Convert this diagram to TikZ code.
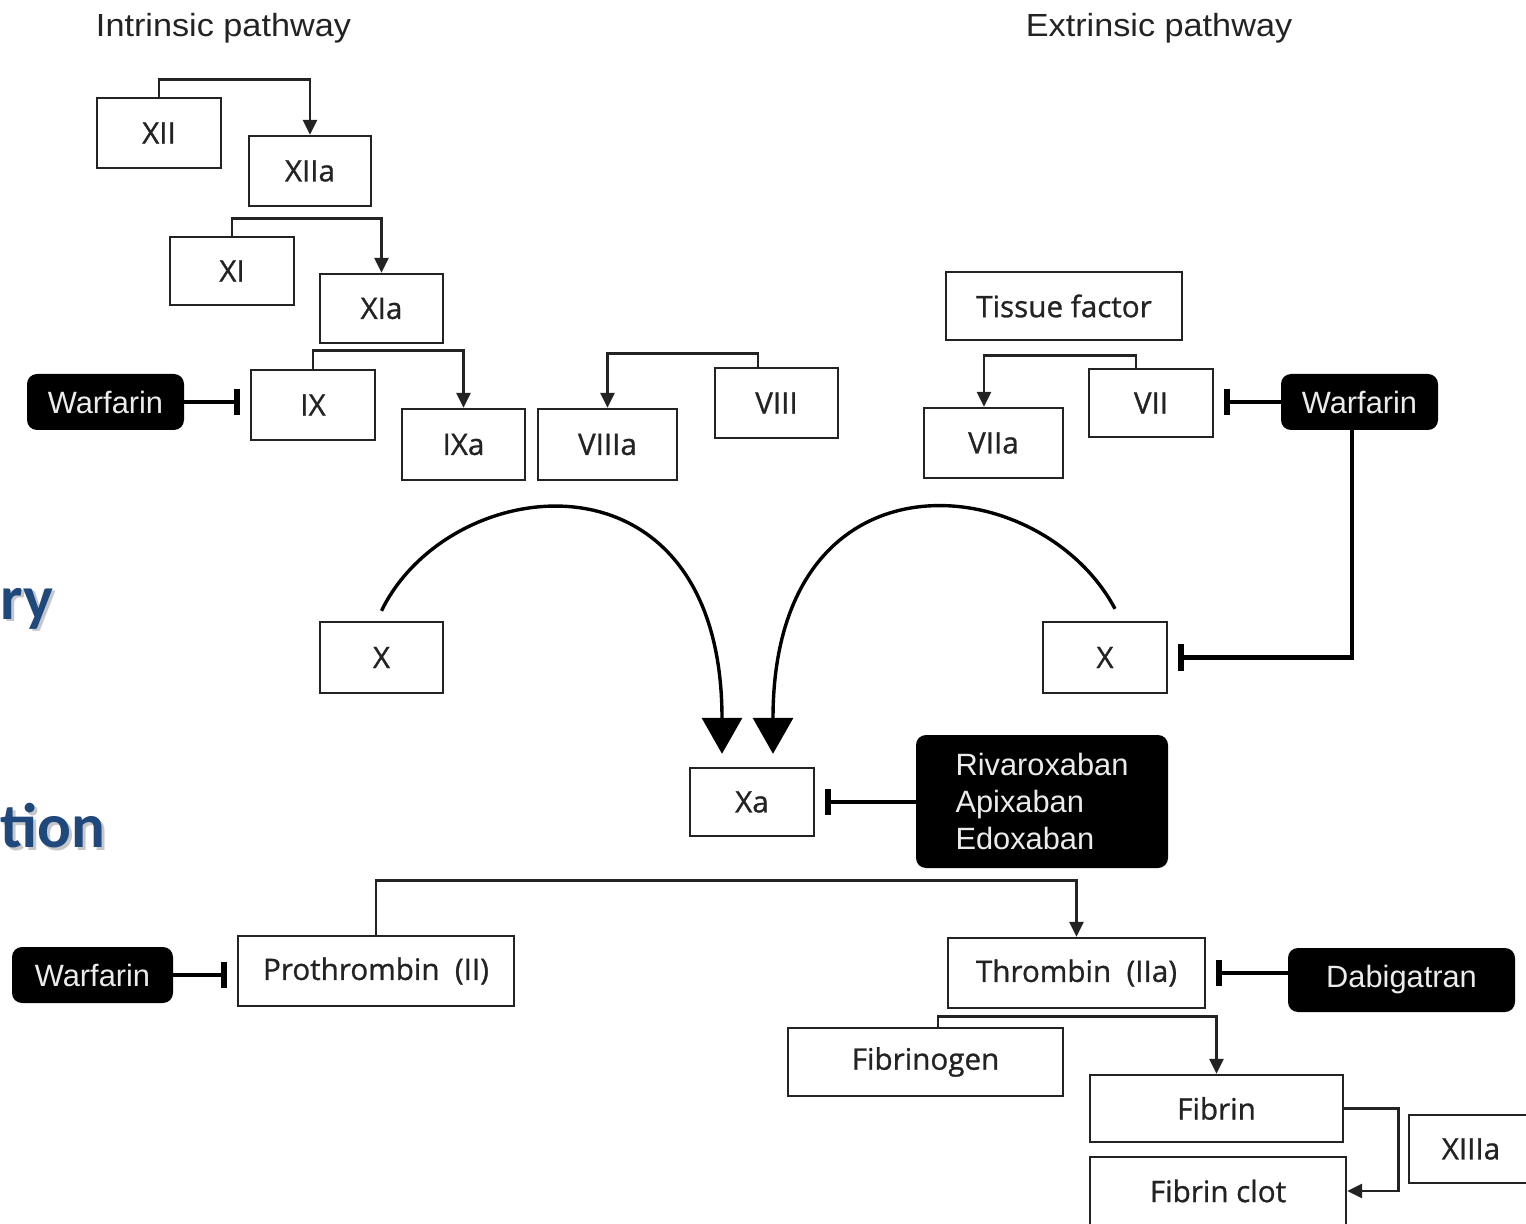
\documentclass[tikz,border=0pt]{standalone}
\usepackage{fontspec}
\setmainfont{Open Sans}
\newfontfamily\boxfont{Open Sans}[FakeBold=0.9]
\newfontfamily\arialfont{Liberation Sans}
\newfontfamily\slidefont{Carlito}
\usetikzlibrary{arrows.meta}

\definecolor{slideblue}{RGB}{31,73,125}
\definecolor{ink}{RGB}{35,35,35}

\begin{document}
\begin{tikzpicture}[x=0.5pt,y=-0.5pt,
  box/.style={draw=ink, line width=1.2pt, fill=white, inner sep=0pt,
    font=\boxfont\fontsize{14.8}{17}\selectfont, text=ink},
  drug/.style={fill=black, rounded corners=5pt, inner sep=0pt, text=white!92!black,
    font=\arialfont\fontsize{15.4}{18.3}\selectfont},
  conn/.style={line width=1.4pt, draw=ink, -{Triangle[width=7pt,length=7.5pt]}},
  inh/.style={line width=2.3pt, draw=black, -{Bar[width=13pt,line width=2.8pt]}, shorten >=5pt},
  bigarr/.style={line width=1.7pt, draw=black, -{Triangle[width=20pt,length=18pt]}},
  sz/.style 2 args={minimum width=#1*0.5pt, minimum height=#2*0.5pt},
  header/.style={font=\arialfont\fontsize{16}{19}\selectfont, xscale=1.07, text=ink},
  slide/.style={anchor=base west, inner sep=0pt, text=slideblue,
    font=\slidefont\bfseries\fontsize{31.5}{38}\selectfont},
  slideshadow/.style={slide, text=black, opacity=0.22}
]
\useasboundingbox (0,0) rectangle (1526,1224);
\clip (0,0) rectangle (1526,1224);
\fill[white] (0,0) rectangle (1526,1224);

% partial slide title words at the left edge
\node[slideshadow] (ryS) at (3,622) {ry};
\node[slide] (ry) at (0,619) {ry};
\node[slideshadow] (tionS) at (3,850) {tion};
\node[slide] (tion) at (0,847) {tion};

% headings
\node[header] (hint) at (223.5,28) {Intrinsic pathway};
\node[header] (hext) at (1159,28) {Extrinsic pathway};

% intrinsic pathway
\node[box, sz={124}{70}] (xii) at (159,133) {XII};
\node[box, sz={122}{70}] (xiia) at (310,171) {XIIa};
\node[box, sz={124}{68}] (xi) at (232,271) {XI};
\node[box, sz={123}{69}] (xia) at (381.5,308.5) {XIa};
\node[box, sz={124}{70}] (ix) at (313,405) {IX};
\node[box, sz={123}{71}] (ixa) at (463.5,444.5) {IXa};
\node[box, sz={139}{71}] (viiia) at (607.5,444.5) {VIIIa};
\node[box, sz={123}{70}] (viii) at (776.5,403) {VIII};
\node[drug, sz={157}{56}] (warfA) at (105.5,402) {Warfarin};

% extrinsic pathway
\node[box, sz={236}{68}] (tf) at (1064,306) {Tissue factor};
\node[box, sz={139}{70}] (viia) at (993.5,443) {VIIa};
\node[box, sz={124}{68}] (vii) at (1151,403) {VII};
\node[drug, sz={157}{56}] (warfB) at (1359.5,402) {Warfarin};

% factor X activation
\node[box, sz={123}{71}] (xl) at (381.5,657.5) {X};
\node[box, sz={124}{71}] (xr) at (1105,657.5) {X};
\node[box, sz={124}{68}] (xa) at (752,802) {Xa};
\node[drug, sz={252}{133}, align=left] (xaban) at (1042,801.5) {Rivaroxaban\\Apixaban\\Edoxaban};

% common pathway
\node[drug, sz={161}{56}] (warfC) at (92.5,975) {Warfarin};
\node[box, sz={276}{70}] (proth) at (376,971) {Prothrombin~ (II)};
\node[box, sz={257}{70}] (thromb) at (1076.5,973) {Thrombin~ (IIa)};
\node[drug, sz={227}{64}] (dabi) at (1401.5,980) {Dabigatran};
\node[box, sz={275}{68}] (fbg) at (925.5,1062) {Fibrinogen};
\node[box, sz={253}{67}] (fibrin) at (1216.5,1108.5) {Fibrin};
\node[box, sz={256}{68}] (clot) at (1218,1191) {Fibrin clot};
\node[box, sz={124}{68}] (xiiia) at (1471,1149) {XIIIa};

% activation steps
\draw[conn] (xii.north) -- ++(0,-17) -| (xiia.north);
\draw[conn] (xi.north) -- ++(0,-17) -| (xia.north);
\draw[conn] (ix.north) -- ++(0,-18) -| (ixa.north);
\draw[conn] ([xshift=-9.25pt]viii.north) -- ++(0,-13) -| (viiia.north);
\draw[conn] ([xshift=-7.5pt]vii.north) -- ++(0,-12) -| ([xshift=-4.75pt]viia.north);
\draw[conn] (proth.north) -- ++(0,-54) -| (thromb.north);
\draw[conn] ([xshift=6.25pt]fbg.north) -- ++(0,-10) -| (fibrin.north);
\draw[conn] (fibrin.east) -- ++(54,0) |- (clot.east);

% X to Xa
\draw[bigarr] ([yshift=5pt]xl.north) .. controls (450,470) and (722,440) .. ([xshift=-15pt,yshift=6.5pt]xa.north);
\draw[bigarr] ([xshift=5pt,yshift=6pt]xr.north) .. controls (1040,468) and (773,442) .. ([xshift=10.5pt,yshift=6.5pt]xa.north);

% inhibitors
\draw[inh] (warfA.east) -- (warfA.east -| ix.west);
\draw[inh] (warfB.west) -- (warfB.west -| vii.east);
\draw[inh] ([xshift=-3.75pt]warfB.south) |- (xr.east);
\draw[inh] (xaban.west |- xa.east) -- (xa.east);
\draw[inh] (warfC.east) -- (warfC.east -| proth.west);
\draw[inh] (dabi.west |- thromb.east) -- (thromb.east);
\end{tikzpicture}
\end{document}
